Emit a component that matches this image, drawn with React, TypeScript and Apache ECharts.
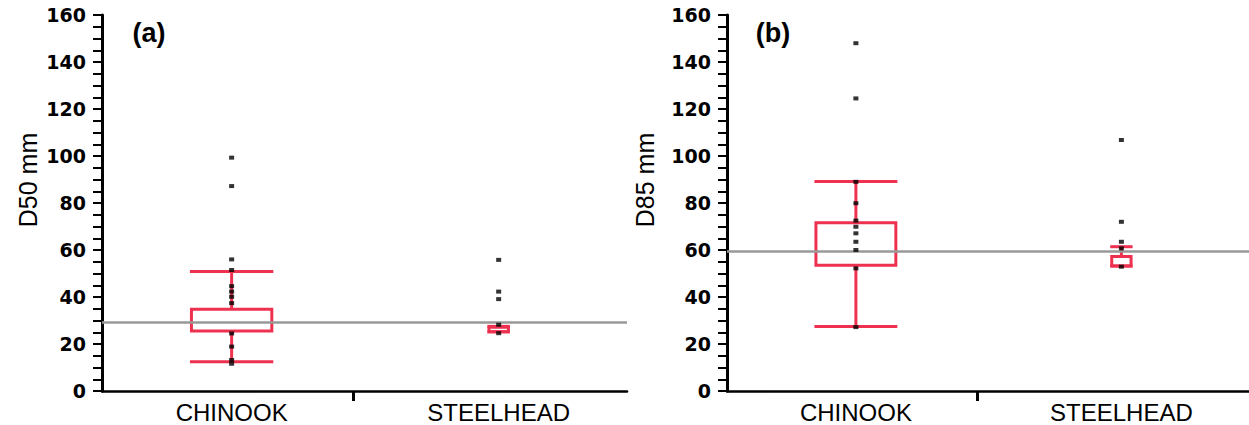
import React, { useEffect, useRef } from "react";
import * as echarts from "echarts";

// ---------- data ----------
const categories = ["CHINOOK", "STEELHEAD"];
const yMax = 160;
const yStep = 20;

// [min whisker, Q1, Q3, max whisker] per category
const d50Boxes = [
  [12.5, 25.5, 34.8, 50.9],
  [25.2, 25.2, 27.1, 27.5],
];
const d50Points = [
  [99.3, 87.2, 56, 51.5, 44.6, 42.3, 40.1, 37.4, 24.5, 18.9, 13.2, 11.6],
  [55.8, 42.3, 39.1, 28.2, 24.6],
];
const d50Reference = 29.2;

const d85Boxes = [
  [27.4, 53.5, 71.6, 89.1],
  [53.2, 53.2, 57.2, 61.4],
];
const d85Points = [
  [148, 124.5, 89, 79.9, 72.5, 69.9, 67.1, 63.5, 60, 52.2, 27.2],
  [106.8, 72, 63.5, 60.7, 52.9],
];
const d85Reference = 59.5;

// ---------- layout ----------
const catX = [1, 3.06];
const sepX = [1.94];
const xMax = 4.05;
const boxWidth = [0.62, 0.15];
const RED = "#ef3150";

const panels = [
  { letter: "(a)", title: "D50 mm", boxes: d50Boxes, points: d50Points, ref: d50Reference, left: 102, titleX: 28, letterX: 149 },
  { letter: "(b)", title: "D85 mm", boxes: d85Boxes, points: d85Points, ref: d85Reference, left: 727, titleX: 645, letterX: 773 },
];

export default function App() {
  const ref = useRef<HTMLDivElement>(null);
  useEffect(() => {
    if (!ref.current) return;
    const chart = echarts.init(ref.current, undefined, { renderer: "svg" });
    const grids: any[] = [];
    const xAxes: any[] = [];
    const yAxes: any[] = [];
    const series: any[] = [];
    const graphics: any[] = [];

    panels.forEach((p, i) => {
      grids.push({ left: p.left, top: 15, width: 525, height: 376 });
      xAxes.push({
        gridIndex: i,
        type: "value",
        min: 0,
        max: xMax,
        splitLine: { show: false },
        axisLine: { show: true, onZero: false, lineStyle: { color: "#000", width: 2.5 } },
        axisTick: { show: true, customValues: sepX, length: 10, lineStyle: { color: "#000", width: 3 } },
        axisLabel: {
          customValues: catX,
          margin: 9,
          color: "#000",
          fontFamily: "Liberation Sans",
          fontSize: 24,
          formatter: (v: number) => {
            let best = 0;
            catX.forEach((c, k) => {
              if (Math.abs(c - v) < Math.abs(catX[best] - v)) best = k;
            });
            return categories[best];
          },
        },
      });
      yAxes.push({
        gridIndex: i,
        type: "value",
        min: 0,
        max: yMax,
        interval: yStep,
        splitLine: { show: false },
        axisLine: { show: true, onZero: false, lineStyle: { color: "#000", width: 3 } },
        axisTick: { show: true, length: 9, lineStyle: { color: "#000", width: 2 } },
        minorTick: { show: true, splitNumber: 4, length: 9, lineStyle: { color: "#000", width: 2 } },
        axisLabel: { margin: 16, color: "#000", fontFamily: "DejaVu Sans", fontWeight: "bold", fontSize: 19 },
      });

      series.push({
        type: "custom",
        xAxisIndex: i,
        yAxisIndex: i,
        z: 2,
        data: p.boxes.map((b, k) => [catX[k], b[0], b[1], b[2], b[3]]),
        encode: { x: 0, y: [1, 2, 3, 4] },
        renderItem: (params: any, api: any) => {
          const idx = params.dataIndex;
          const x = api.value(0);
          const cx = api.coord([x, 0])[0];
          const yMin = api.coord([x, api.value(1)])[1];
          const yQ1 = api.coord([x, api.value(2)])[1];
          const yQ3 = api.coord([x, api.value(3)])[1];
          const yMx = api.coord([x, api.value(4)])[1];
          const w = api.size([boxWidth[idx], 0])[0];
          const st = { stroke: RED, lineWidth: 3, fill: "none" };
          return {
            type: "group",
            children: [
              { type: "line", shape: { x1: cx, y1: yQ3, x2: cx, y2: yMx }, style: st },
              { type: "line", shape: { x1: cx, y1: yQ1, x2: cx, y2: yMin }, style: st },
              { type: "line", shape: { x1: cx - w / 2 - 1.5, y1: yMx, x2: cx + w / 2 + 1.5, y2: yMx }, style: st },
              { type: "line", shape: { x1: cx - w / 2 - 1.5, y1: yMin, x2: cx + w / 2 + 1.5, y2: yMin }, style: st },
              { type: "rect", shape: { x: cx - w / 2, y: yQ3, width: w, height: yQ1 - yQ3 }, style: st },
            ],
          };
        },
      });

      series.push({
        type: "scatter",
        xAxisIndex: i,
        yAxisIndex: i,
        data: [],
        z: 3,
        silent: true,
        markLine: {
          silent: true,
          symbol: "none",
          label: { show: false },
          lineStyle: { color: "#999", width: 2.5, type: "solid" },
          data: [{ yAxis: p.ref }],
        },
      });

      const pts: number[][] = [];
      p.points.forEach((arr, k) => arr.forEach((v) => pts.push([catX[k], v])));
      series.push({
        type: "scatter",
        xAxisIndex: i,
        yAxisIndex: i,
        z: 5,
        symbol: "rect",
        symbolSize: [5, 4],
        itemStyle: { color: "#000" },
        data: pts,
      });

      graphics.push({
        type: "text",
        x: p.titleX,
        y: 180,
        rotation: Math.PI / 2,
        style: {
          text: p.title,
          fontFamily: "Liberation Sans",
          fontSize: 25,
          fill: "#000",
          align: "center",
          verticalAlign: "middle",
        },
      });
      graphics.push({
        type: "text",
        x: p.letterX,
        y: 33,
        style: {
          text: p.letter,
          fontFamily: "Liberation Sans",
          fontWeight: "bold",
          fontSize: 27,
          fill: "#000",
          align: "center",
          verticalAlign: "middle",
        },
      });
    });

    chart.setOption({
      animation: false,
      backgroundColor: "#fff",
      grid: grids,
      xAxis: xAxes,
      yAxis: yAxes,
      series,
      graphic: graphics,
    });
    return () => chart.dispose();
  }, []);
  return (
    <div
      ref={ref}
      style={{ position: "absolute", left: 0, top: 0, width: 1249, height: 425 }}
    />
  );
}
